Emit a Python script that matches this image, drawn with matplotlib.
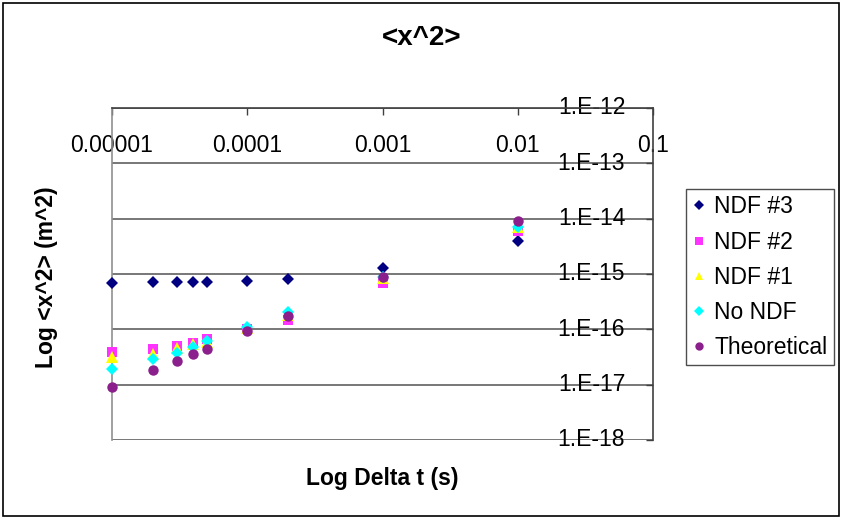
import matplotlib
matplotlib.use("Agg")
import matplotlib.pyplot as plt
from matplotlib.patches import Rectangle
from matplotlib.ticker import FixedLocator, FixedFormatter, NullLocator

plt.rcParams['font.family'] = ['Liberation Sans', 'DejaVu Sans']

# ---- data ----
dt = [1e-5, 2e-5, 3e-5, 4e-5, 5e-5, 1e-4, 2e-4, 1e-3, 1e-2]
ndf3 = [7.0e-16, 7.1e-16, 7.1e-16, 7.2e-16, 7.2e-16, 7.6e-16, 8.1e-16, 1.26e-15, 4.0e-15]
ndf2 = [3.9e-17, 4.4e-17, 5.0e-17, 5.7e-17, 6.6e-17, 1.0e-16, 1.5e-16, 6.8e-16, 6.0e-15]
ndf1 = [3.1e-17, 3.6e-17, 4.6e-17, 5.4e-17, 5.9e-17, 1.05e-16, 1.8e-16, 8.5e-16, 7.0e-15]
no_ndf = [1.95e-17, 2.9e-17, 3.8e-17, 4.8e-17, 6.2e-17, 1.12e-16, 2.1e-16, 8.9e-16, 7.1e-15]
theory = [9.1e-18, 1.85e-17, 2.7e-17, 3.6e-17, 4.4e-17, 9.3e-17, 1.75e-16, 8.7e-16, 9.1e-15]

x_ticks = [1e-5, 1e-4, 1e-3, 1e-2, 1e-1]
x_tick_labels = ["0.00001", "0.0001", "0.001", "0.01", "0.1"]
y_ticks = [1e-18, 1e-17, 1e-16, 1e-15, 1e-14, 1e-13, 1e-12]
y_tick_labels = ["1.E-18", "1.E-17", "1.E-16", "1.E-15", "1.E-14", "1.E-13", "1.E-12"]

series = [
    ("NDF #3", ndf3, "D", "#000080", 6.5),
    ("NDF #2", ndf2, "s", "#FF33FF", 7),
    ("NDF #1", ndf1, "^", "#FFFF00", 8),
    ("No NDF", no_ndf, "D", "#00FFFF", 6.5),
    ("Theoretical", theory, "o", "#8B1F8B", 7.5),
]

W, H = 844, 519
fig = plt.figure(figsize=(W / 100, H / 100), dpi=100)
fig.patch.set_facecolor("white")

L, R, T, B = 112, 653, 108, 440
ax = fig.add_axes([L / W, 1 - B / H, (R - L) / W, (B - T) / H])
ax.set_xscale("log")
ax.set_yscale("log")
ax.set_xlim(1e-5, 1e-1)
ax.set_ylim(1e-18, 1e-12)

for name, vals, mk, col, ms in series:
    ax.plot(dt, vals, linestyle="none", marker=mk, color=col, markersize=ms,
            markeredgewidth=0, label=name, clip_on=False, zorder=3)

# grid
ax.yaxis.set_major_locator(FixedLocator(y_ticks))
ax.yaxis.set_minor_locator(NullLocator())
ax.xaxis.set_major_locator(FixedLocator(x_ticks))
ax.xaxis.set_minor_locator(NullLocator())
ax.yaxis.set_major_formatter(FixedFormatter(y_tick_labels))
ax.xaxis.set_major_formatter(FixedFormatter(x_tick_labels))
ax.grid(axis="y", color="#606060", linewidth=1.2, zorder=1)
ax.set_axisbelow(True)

# spines
ax.spines["bottom"].set_position(("axes", 1.0))
ax.spines["bottom"].set_color("#404040")
ax.spines["bottom"].set_linewidth(1.2)
ax.spines["top"].set_visible(False)
ax.spines["left"].set_color("#909090")
ax.spines["left"].set_linewidth(1.2)
ax.spines["right"].set_color("#404040")
ax.spines["right"].set_linewidth(1.2)

ax.tick_params(axis="x", direction="out", length=5, width=1, color="#404040",
               labelsize=16.5, pad=14)
ax.yaxis.tick_right()
ax.tick_params(axis="y", which="both", left=False, right=True, length=5, width=1,
               direction="in", color="#404040", labelsize=16.5, pad=-20)
for lab in ax.get_yticklabels():
    lab.set_horizontalalignment("right")
    lab.set_verticalalignment("center")

# labels
fig.text(422 / W, 1 - 38 / H, "<x^2>", ha="center", va="center",
         fontsize=20, fontweight="bold")
fig.text(382 / W, 1 - 478 / H, "Log Delta t (s)", ha="center", va="center",
         fontsize=16.5, fontweight="bold")
fig.text(47 / W, 1 - 277 / H, "Log <x^2> (m^2)", ha="center", va="center",
         rotation=90, fontsize=16.5, fontweight="bold")

leg = fig.legend(loc="upper left", bbox_to_anchor=(686 / W, 1 - 189 / H),
                 fontsize=16.5, frameon=True, fancybox=False, shadow=False,
                 handlelength=0.6, handletextpad=0.35, labelspacing=0.53,
                 borderpad=0.28, borderaxespad=0, markerscale=0.8)
leg.get_frame().set_edgecolor("#202020")
leg.get_frame().set_linewidth(1.0)

fig.patches.append(Rectangle((3 / W, 3 / H), (839 - 3) / W, (516 - 3) / H,
                             transform=fig.transFigure, fill=False,
                             edgecolor="black", linewidth=1.2))

fig.savefig("out.png", dpi=100)
